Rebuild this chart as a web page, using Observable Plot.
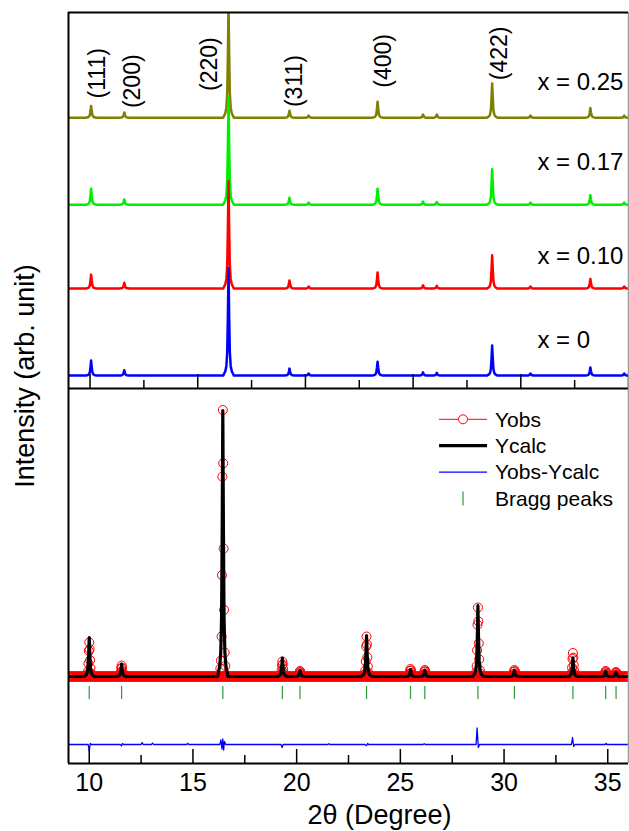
<!DOCTYPE html>
<html><head><meta charset="utf-8">
<script src="https://cdn.jsdelivr.net/npm/d3@7"></script>
<script src="https://cdn.jsdelivr.net/npm/@observablehq/plot@0.6"></script>
<style>
html,body{margin:0;padding:0;background:#fff;}
#chart{position:relative;width:629px;height:831px;font-family:Arial,"Liberation Sans",sans-serif;background:#fff;}
#chart svg{position:absolute;left:0;overflow:visible;background:none;}
#ylabel{position:absolute;left:25px;top:376px;transform:translate(-50%,-50%) rotate(-90deg);font-size:27px;white-space:nowrap;color:#000;}
</style></head><body><div id="chart"><div id="ylabel">Intensity (arb. unit)</div></div>
<script>
// ---------- data ----------
// top panel: XRD patterns (2θ of reflections, relative heights, (220) = 1)
const peakPositions = [10.05, 11.59, 16.43, 19.26, 20.15, 23.35, 25.46, 26.10, 28.67, 30.45, 33.23, 34.80];
const sampleNames   = ["x = 0", "x = 0.10", "x = 0.17", "x = 0.25"];
const sampleColors  = ["#0000ff", "#ff0000", "#00ee00", "#808000"];
const sampleOffsets = [0.12, 0.93, 1.71, 2.52];
const heights_x000 = [0.14, 0.05, 1.00, 0.065, 0.02, 0.13, 0.03, 0.025, 0.28, 0.02, 0.075, 0.02];
const heights_x010 = [0.13, 0.055, 1.00, 0.075, 0.02, 0.15, 0.03, 0.025, 0.31, 0.02, 0.09, 0.02];
const heights_x017 = [0.15, 0.05, 1.00, 0.065, 0.02, 0.15, 0.03, 0.025, 0.33, 0.02, 0.09, 0.02];
const heights_x025 = [0.11, 0.05, 1.05, 0.065, 0.02, 0.15, 0.03, 0.03, 0.32, 0.02, 0.09, 0.02];
const sampleLabelY  = [0.447, 1.229, 2.107, 2.851];
const hklLabels = ["(111)", "(200)", "(220)", "(311)", "(400)", "(422)"];
const hklX      = [10.33, 11.96, 15.55, 19.49, 23.62, 29.0];
const hklY      = [2.70, 2.61, 2.77, 2.62, 2.80, 2.87];

// tabulated peak profile (offset in degrees, fraction of peak height)
const shapeOffsets   = [-0.25, -0.15, -0.10, -0.06, -0.03, 0, 0.03, 0.06, 0.10, 0.15, 0.25];
const shapeFractions = [0, 0.04, 0.09, 0.22, 0.55, 1, 0.55, 0.22, 0.09, 0.04, 0];
const obsOffsets     = [-0.12, -0.09, -0.06, -0.04, -0.02, 0, 0.02, 0.04, 0.06, 0.09, 0.12];
const obsFractions   = [0.03, 0.06, 0.15, 0.38, 0.75, 1, 0.80, 0.48, 0.25, 0.09, 0.04];

// bottom panel: Rietveld refinement (x = 0)
const braggPeaks  = [10.00, 11.56, 16.44, 19.31, 20.16, 23.37, 25.49, 26.18, 28.74, 30.50, 33.32, 34.90, 35.40];
const calcHeights = [390, 125, 2660, 185, 60, 410, 70, 60, 710, 60, 187, 50, 40];
const obsHeights  = [340, 110, 2665, 150, 55, 400, 75, 65, 690, 65, 235, 55, 45];
const diffX = [9, 9.95, 10.0, 10.05, 10.1, 11.5, 11.55, 11.6, 11.65, 12.5, 12.55, 12.6, 13.0, 13.05, 13.1, 14.7, 14.75, 14.8,
               16.3, 16.35, 16.4, 16.44, 16.48, 16.52, 16.58, 19.25, 19.3, 19.35, 21.5, 21.55, 21.6, 23.3, 23.37, 23.42, 23.47,
               26.1, 26.15, 26.2, 28.65, 28.7, 28.76, 28.82, 33.25, 33.3, 33.36, 33.42, 34.88, 34.92, 34.96, 36];
const diffY = [0, 0, -65, 10, 0, 0, -15, 10, 0, 0, 20, 0, 0, 15, 0, 0, 12, 0,
               0, 45, -45, 55, -55, 30, 0, 0, -30, 0, 0, 8, 0, 0, -12, 10, 0,
               0, 8, 0, 0, 165, -30, 0, 0, 70, -20, 0, 0, 10, 0, 0];
const diffOffset = -680;
const braggTop = -100, braggBottom = -230;
const legendLabels = ["Yobs", "Ycalc", "Yobs-Ycalc", "Bragg peaks"];
const majorTicks = [10, 15, 20, 25, 30, 35];
const minorTicks = [12.5, 17.5, 22.5, 27.5, 32.5];

// ---------- helpers ----------
function profile(positions, heights, offset, xmin, xmax, offs, fracs) {
  const pts = [{x: xmin, y: offset}];
  positions.forEach((p, i) => offs.forEach((o, j) => pts.push({x: p + o, y: offset + heights[i] * fracs[j]})));
  pts.push({x: xmax, y: offset});
  return pts.sort((a, b) => a.x - b.x);
}
const FONT = 'Arial, "Liberation Sans", sans-serif';
const chart = document.getElementById("chart");

// ---------- top panel ----------
const topH = 388, topMT = 12;
const allHeights = [heights_x000, heights_x010, heights_x017, heights_x025];
const series = allHeights.map((h, i) => profile(peakPositions, h, sampleOffsets[i], 9, 35, shapeOffsets, shapeFractions));
const drawOrder = [3, 2, 1, 0];
const topPlot = Plot.plot({
  width: 629, height: topH, marginTop: topMT, marginBottom: 0, marginLeft: 68, marginRight: 1,
  style: {fontFamily: FONT, background: "none", overflow: "visible"},
  x: {domain: [9, 35], axis: null},
  y: {domain: [0, 3.5], axis: null},
  marks: [
    ...drawOrder.map(i => Plot.line(series[i], {x: "x", y: "y", stroke: sampleColors[i], strokeWidth: 2.5, clip: true, curve: "linear"})),
    Plot.text(sampleNames, {x: () => 30.77, y: (d, i) => sampleLabelY[i], text: d => d, textAnchor: "start", lineAnchor: "middle", fontSize: 24, fill: "black"}),
    Plot.text(hklLabels, {x: (d, i) => hklX[i], y: (d, i) => hklY[i], text: d => d, rotate: -90, textAnchor: "start", lineAnchor: "middle", fontSize: 23, fill: "black"}),
    Plot.ruleX(majorTicks, {stroke: "black", strokeWidth: 1.5, insetTop: (topH - topMT) - 14}),
    Plot.ruleX(minorTicks, {stroke: "black", strokeWidth: 1.5, insetTop: (topH - topMT) - 8}),
    Plot.ruleX([9], {stroke: "black", strokeWidth: 2}),
    Plot.ruleX([35], {stroke: "#999", strokeWidth: 1.5}),
    Plot.ruleY([3.5], {stroke: "black", strokeWidth: 2}),
    Plot.ruleY([0], {stroke: "black", strokeWidth: 2})
  ]
});
topPlot.style.top = "0px";
chart.appendChild(topPlot);

// ---------- bottom panel ----------
const botH = 443, botMB = 68;
const calc = profile(braggPeaks, calcHeights, 0, 9, 36, shapeOffsets, shapeFractions);
const obsBackground = d3.range(9, 36.001, 0.03).map(x => ({x, y: 0}));
const obsPeaks = [];
braggPeaks.forEach((p, i) => obsOffsets.forEach((o, j) => obsPeaks.push({x: p + o, y: obsHeights[i] * obsFractions[j]})));
const obs = obsBackground.concat(obsPeaks);
const diff = diffX.map((x, i) => ({x, y: diffOffset + diffY[i]}));

const bottomPlot = Plot.plot({
  width: 629, height: botH, marginTop: 0, marginBottom: botMB, marginLeft: 68, marginRight: 1,
  style: {fontFamily: FONT, background: "none", overflow: "visible", color: "black"},
  x: {domain: [9, 36]},
  y: {domain: [-870, 2880], axis: null},
  marks: [
    Plot.dot(obs, {x: "x", y: "y", r: 4.5, stroke: "#ff0000", strokeWidth: 1, fill: "none", clip: true}),
    Plot.line(calc, {x: "x", y: "y", stroke: "black", strokeWidth: 3.2, clip: true}),
    Plot.line(diff, {x: "x", y: "y", stroke: "#0000ff", strokeWidth: 1.3}),
    Plot.ruleX(braggPeaks, {x: d => d, y1: braggTop, y2: braggBottom, stroke: "#2e9a3a", strokeWidth: 1.2}),
    Plot.ruleX(majorTicks, {stroke: "black", strokeWidth: 1.5, insetTop: (botH - botMB) - 14}),
    Plot.ruleX(minorTicks, {stroke: "black", strokeWidth: 1.5, insetTop: (botH - botMB) - 8}),
    Plot.ruleX([9], {stroke: "black", strokeWidth: 2}),
    Plot.ruleX([36], {stroke: "#999", strokeWidth: 1.5}),
    Plot.ruleY([-870], {stroke: "black", strokeWidth: 2}),
    Plot.axisX({ticks: majorTicks, tickSize: 0, tickPadding: 10, fontSize: 25, label: null, tickFormat: d => String(d)}),
    Plot.text(["2θ (Degree)"], {frameAnchor: "bottom", dx: 31, dy: 41, lineAnchor: "top", fontSize: 27, fill: "black"})
  ]
});
bottomPlot.style.top = "388px";
chart.appendChild(bottomPlot);

// legend inside bottom panel
const lg = d3.select(bottomPlot).append("g").attr("font-family", FONT).attr("font-size", 21).attr("text-anchor", "start");
legendLabels.forEach((t, i) => {
  const cy = 31.3 + i * 26.4;
  if (i === 0) {
    lg.append("line").attr("x1", 439).attr("x2", 487).attr("y1", cy).attr("y2", cy).attr("stroke", "#ff0000").attr("stroke-width", 1);
    lg.append("circle").attr("cx", 463).attr("cy", cy).attr("r", 4.5).attr("fill", "white").attr("stroke", "#ff0000");
  } else if (i === 1) {
    lg.append("line").attr("x1", 439).attr("x2", 487).attr("y1", cy).attr("y2", cy).attr("stroke", "black").attr("stroke-width", 3.2);
  } else if (i === 2) {
    lg.append("line").attr("x1", 439).attr("x2", 487).attr("y1", cy).attr("y2", cy).attr("stroke", "#0000ff").attr("stroke-width", 1.3);
  } else {
    lg.append("line").attr("x1", 463).attr("x2", 463).attr("y1", cy - 7).attr("y2", cy + 7).attr("stroke", "#2e9a3a").attr("stroke-width", 1.2);
  }
  lg.append("text").attr("x", 495).attr("y", cy).attr("dy", "0.35em").attr("text-anchor", "start").attr("fill", "black").text(t);
});
</script></body></html>
